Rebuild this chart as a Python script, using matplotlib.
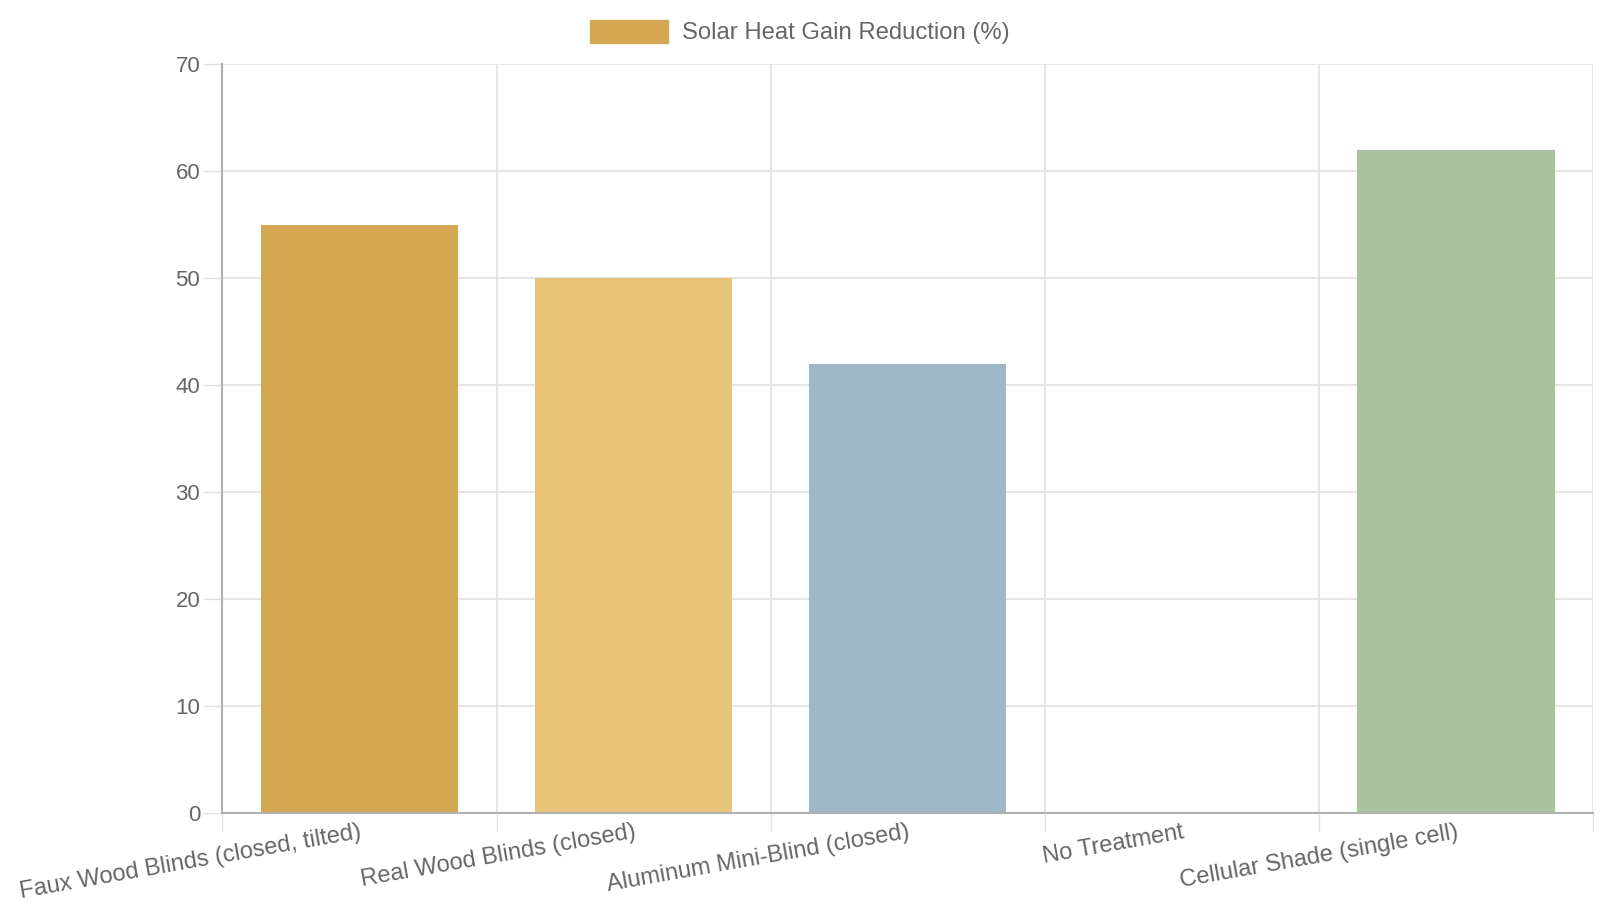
import numpy as np
import matplotlib
matplotlib.use("Agg")
from matplotlib import pyplot as plt
from matplotlib.patches import Rectangle

plt.rcParams['font.family'] = ['Liberation Sans', 'DejaVu Sans']

# -------------- data
categories = ["Faux Wood Blinds (closed, tilted)", "Real Wood Blinds (closed)",
              "Aluminum Mini-Blind (closed)", "No Treatment", "Cellular Shade (single cell)"]
values = [55, 50, 42, 0, 62]
colors = ['#D4A753', '#E8C47B', '#9EB8CA', '#CCCCCC', '#A8C49F']
series_name = "Solar Heat Gain Reduction (%)"
yticks = [0, 10, 20, 30, 40, 50, 60, 70]

text_col = '#666666'
grid_col = '#e2e2e2'
axis_col = '#b0b0b0'

fig = plt.figure(figsize=(16, 9), dpi=100, facecolor='white')
ax = fig.add_axes([0.139, 0.0967, 0.8566, 0.8319])

x = np.arange(len(categories))
ax.bar(x, values, width=0.72, color=colors, zorder=3)

ax.set_xlim(-0.5, len(categories) - 0.5)
ax.set_ylim(0, 70)

# y axis
ax.set_yticks(yticks)
ax.set_yticklabels([str(v) for v in yticks], fontsize=16, color=text_col)
ax.tick_params(axis='y', length=14, width=1, color=grid_col, pad=2)
ax.grid(axis='y', color=grid_col, linewidth=1.2, zorder=0)

# x axis: gridlines on category boundaries, labels on centres
ax.set_xticks(x)
ax.set_xticklabels(categories, fontsize=17, color=text_col, rotation=10,
                   ha='right', va='top', rotation_mode='anchor')
ax.tick_params(axis='x', length=0, pad=6)
bounds = np.arange(len(categories) + 1) - 0.5
ax.set_xticks(bounds, minor=True)
ax.tick_params(axis='x', which='minor', length=14, width=1, color=grid_col)
ax.grid(axis='x', which='minor', color=grid_col, linewidth=1.2, zorder=0)

for s in ['top', 'right']:
    ax.spines[s].set_visible(False)
for s in ['left', 'bottom']:
    ax.spines[s].set_color(axis_col)
    ax.spines[s].set_linewidth(1.5)
    ax.spines[s].set_zorder(4)

# -------------- legend
fig.add_artist(Rectangle((590 / 1600, 1 - 43 / 900), 78 / 1600, 23 / 900,
                         transform=fig.transFigure, color=colors[0]))
fig.text(682 / 1600, 1 - 33 / 900, series_name, fontsize=17.2, color=text_col,
         ha='left', va='center')

plt.savefig('out.png', dpi=100, facecolor='white')
